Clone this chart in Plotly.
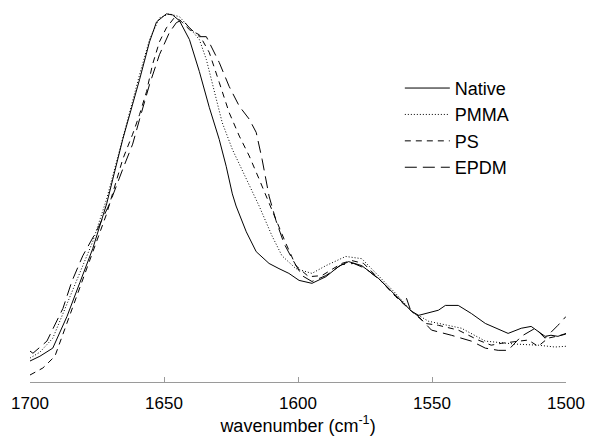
import plotly.graph_objects as go

# Amide I region FTIR spectra (normalised absorbance)
native_wn = [1700.0, 1696.3, 1691.5, 1686.2, 1681.4, 1676.6, 1671.4, 1665.4, 1659.1, 1655.4,
             1652.8, 1649.1, 1646.8, 1644.2, 1640.5, 1636.8, 1633.1, 1629.4, 1626.8, 1624.5,
             1623.1, 1619.3, 1615.6, 1610.8, 1607.1, 1603.4, 1599.6, 1594.8, 1589.6, 1584.8,
             1581.1, 1576.2, 1569.9, 1563.6, 1557.6, 1555.0, 1547.6, 1545.0, 1540.2, 1535.3,
             1530.1, 1521.6, 1516.7, 1513.0, 1507.8, 1505.6, 1503.0, 1500.0]
native_a = [0.057, 0.070, 0.092, 0.178, 0.270, 0.362, 0.484, 0.659, 0.822, 0.924,
            0.978, 1.000, 0.997, 0.981, 0.930, 0.843, 0.746, 0.659, 0.586, 0.511,
            0.478, 0.408, 0.354, 0.322, 0.308, 0.295, 0.276, 0.268, 0.286, 0.314,
            0.327, 0.316, 0.281, 0.235, 0.192, 0.181, 0.195, 0.208, 0.208, 0.186,
            0.159, 0.132, 0.146, 0.151, 0.124, 0.127, 0.124, 0.132]

pmma_wn = [1700.0, 1696.3, 1691.5, 1686.2, 1681.4, 1676.6, 1671.4, 1665.4, 1659.1, 1655.4,
           1651.7, 1648.0, 1644.2, 1640.5, 1636.8, 1634.2, 1632.0, 1628.3, 1624.5, 1619.3,
           1615.6, 1614.5, 1609.7, 1606.0, 1600.8, 1594.8, 1589.6, 1582.2, 1576.2, 1569.9,
           1563.6, 1557.6, 1551.3, 1539.0, 1530.1, 1518.9, 1510.4, 1504.1, 1500.0]
pmma_a = [0.065, 0.081, 0.119, 0.214, 0.295, 0.381, 0.497, 0.665, 0.835, 0.930,
          0.989, 1.000, 0.992, 0.962, 0.930, 0.876, 0.814, 0.705, 0.632, 0.551,
          0.497, 0.478, 0.397, 0.343, 0.308, 0.295, 0.316, 0.341, 0.335, 0.289,
          0.241, 0.192, 0.165, 0.146, 0.111, 0.103, 0.100, 0.095, 0.097]

ps_wn = [1700.0, 1695.2, 1690.7, 1686.2, 1681.4, 1676.6, 1671.4, 1665.4, 1661.7, 1659.1,
         1656.5, 1654.3, 1651.7, 1649.1, 1646.2, 1644.2, 1640.5, 1636.8, 1633.1, 1629.4,
         1625.7, 1621.9, 1618.2, 1614.5, 1611.9, 1610.8, 1608.2, 1604.5, 1600.8, 1596.0,
         1591.1, 1583.7, 1580.0, 1575.5, 1569.9, 1563.6, 1557.6, 1552.4, 1547.6, 1540.2,
         1532.8, 1527.9, 1524.2, 1517.9, 1514.1, 1510.4, 1506.7, 1500.0]
ps_a = [0.019, 0.038, 0.070, 0.159, 0.254, 0.349, 0.457, 0.605, 0.673, 0.727,
        0.789, 0.862, 0.924, 0.962, 0.989, 0.984, 0.957, 0.943, 0.895, 0.814,
        0.732, 0.668, 0.614, 0.551, 0.505, 0.484, 0.438, 0.376, 0.316, 0.286,
        0.289, 0.322, 0.330, 0.322, 0.281, 0.232, 0.192, 0.159, 0.154, 0.141,
        0.114, 0.100, 0.105, 0.111, 0.114, 0.097, 0.119, 0.130]

epdm_wn = [1700.0, 1698.9, 1693.7, 1687.7, 1684.4, 1680.3, 1675.1, 1670.3, 1665.4, 1661.7,
           1659.1, 1655.4, 1651.7, 1648.0, 1645.4, 1643.1, 1640.5, 1636.8, 1634.2, 1629.4,
           1625.7, 1621.9, 1618.2, 1615.6, 1613.4, 1610.8, 1608.2, 1605.2, 1602.2, 1598.5,
           1594.8, 1589.6, 1583.7, 1579.2, 1574.7, 1568.8, 1563.6, 1560.6, 1559.5, 1558.0,
           1555.0, 1550.2, 1542.8, 1535.3, 1530.1, 1525.3, 1521.6, 1516.7, 1511.5, 1507.8,
           1503.0, 1500.0]
epdm_a = [0.084, 0.078, 0.111, 0.200, 0.273, 0.343, 0.411, 0.484, 0.578, 0.646,
          0.714, 0.808, 0.889, 0.949, 0.976, 0.984, 0.962, 0.938, 0.938, 0.868,
          0.803, 0.749, 0.714, 0.678, 0.605, 0.505, 0.438, 0.376, 0.335, 0.289,
          0.273, 0.289, 0.319, 0.322, 0.308, 0.273, 0.235, 0.214, 0.227, 0.195,
          0.178, 0.141, 0.127, 0.111, 0.092, 0.086, 0.086, 0.124, 0.146, 0.119,
          0.154, 0.178]

names = ["Native", "PMMA", "PS", "EPDM"]
x_data = [native_wn, pmma_wn, ps_wn, epdm_wn]
y_data = [native_a, pmma_a, ps_a, epdm_a]
dashes = ["solid", "1px,2px", "6px,5px", "12px,6px"]

fig = go.Figure()
for name, wn, a, dash in zip(names, x_data, y_data, dashes):
    fig.add_trace(go.Scatter(
        x=wn, y=a, name=name, mode="lines",
        line=dict(color="black", width=1, dash=dash),
    ))

fig.update_layout(
    width=590, height=437,
    margin=dict(l=30, r=22, t=5, b=53),
    paper_bgcolor="white", plot_bgcolor="white",
    font=dict(family="Liberation Sans, Arial, sans-serif", size=17, color="black"),
    showlegend=True,
    legend=dict(
        x=0.690, y=0.828, xanchor="left", yanchor="top",
        bgcolor="rgba(0,0,0,0)", font=dict(size=18), tracegroupgap=0,
        itemwidth=45,
    ),
    xaxis=dict(
        range=[1700, 1500], tickvals=[1700, 1650, 1600, 1550, 1500],
        showline=True, linecolor="#9a9a9a", linewidth=1,
        ticks="inside", ticklen=5, tickcolor="#9a9a9a",
        showgrid=False, zeroline=False, ticklabelstandoff=6,
        title=dict(text="wavenumber (cm<sup>-1</sup>)", standoff=6, font=dict(size=18)),
    ),
    yaxis=dict(range=[0, 1.024], visible=False, showgrid=False, zeroline=False),
)

fig.write_html("out.html")
